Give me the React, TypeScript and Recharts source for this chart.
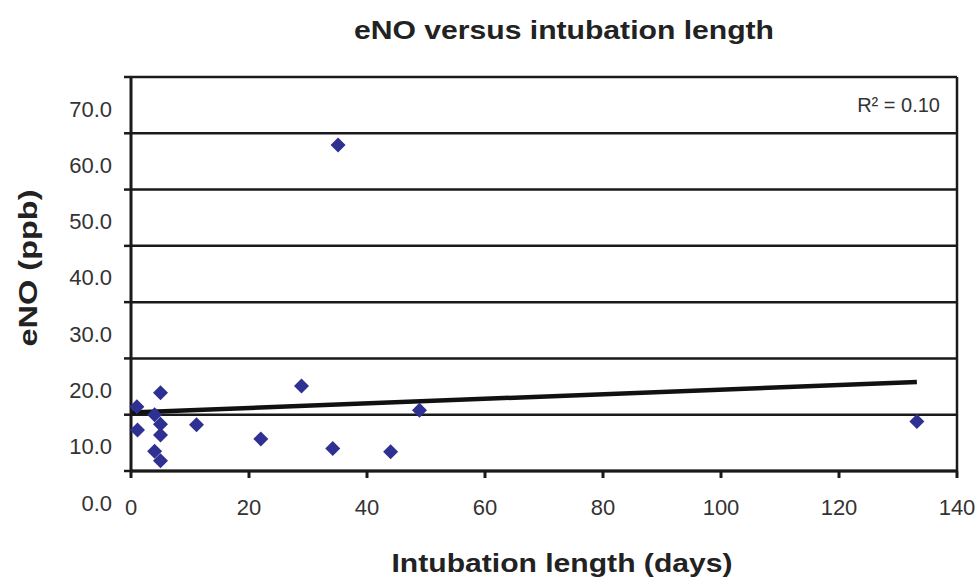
import React from "react";
import { ScatterChart, Scatter, XAxis, YAxis, CartesianGrid, ReferenceLine } from "recharts";

// values
const intubationDays = [1.0, 1.1, 4.0, 4.0, 5.0, 5.0, 5.0, 5.0, 11.1, 22.0, 28.9, 34.2, 35.1, 44.0, 48.9, 133.2];
const enoValues = [11.4, 7.3, 10.0, 3.5, 13.9, 8.3, 6.4, 1.8, 8.2, 5.7, 15.1, 4.0, 57.9, 3.4, 10.8, 8.8];
const trendDays = [0, 133.2];
const trendEno = [10.4, 15.8];
const xTicks = [0, 20, 40, 60, 80, 100, 120, 140];
const yTicks = [0, 10, 20, 30, 40, 50, 60, 70];

const points = intubationDays.map((d, i) => ({ days: d, eno: enoValues[i] }));

const W = 979;
const H = 579;
const INK = "#1a1a1a";
const FONT = "'Liberation Sans', Arial, Helvetica, sans-serif";

const Diamond = (props: any) => {
  const { cx, cy } = props;
  const r = 7.5;
  return (
    <polygon
      points={`${cx},${cy - r} ${cx + r},${cy} ${cx},${cy + r} ${cx - r},${cy}`}
      fill="#2E3192"
    />
  );
};

// the source figure prints its y labels about half a band below their lines
const YTick = (props: any) => {
  const { x, y, payload } = props;
  return (
    <text x={x} y={y + 32} textAnchor="end" dominantBaseline="central" fontSize={22} fill="#333" fontFamily={FONT}>
      {Number(payload.value).toFixed(1)}
    </text>
  );
};

const XTick = (props: any) => {
  const { x, y, payload } = props;
  return (
    <text x={x} y={y} dy="0.71em" textAnchor="middle" fontSize={22} fill="#333" fontFamily={FONT}>
      {payload.value}
    </text>
  );
};

const App = () => {
  return (
    <div style={{ position: "absolute", left: 0, top: 0, width: W, height: H, background: "#fff" }}>
      <ScatterChart width={W} height={H} margin={{ top: 77, right: 22, bottom: 48, left: 0 }}>
        <CartesianGrid vertical={false} stroke={INK} strokeWidth={2.5} />
        <XAxis
          type="number"
          dataKey="days"
          domain={[0, 140]}
          ticks={xTicks}
          height={60}
          tickSize={7}
          tickMargin={21}
          axisLine={{ stroke: INK, strokeWidth: 3 }}
          tickLine={{ stroke: INK, strokeWidth: 3 }}
          tick={<XTick />}
          interval={0}
        />
        <YAxis
          type="number"
          dataKey="eno"
          domain={[0, 70]}
          ticks={yTicks}
          width={131}
          tickSize={7}
          tickMargin={12}
          axisLine={{ stroke: INK, strokeWidth: 3 }}
          tickLine={{ stroke: INK, strokeWidth: 2.5 }}
          tick={<YTick />}
          interval={0}
        />
        <ReferenceLine x={140} stroke={INK} strokeWidth={2.5} />
        <ReferenceLine
          segment={[
            { x: trendDays[0], y: trendEno[0] },
            { x: trendDays[1], y: trendEno[1] },
          ]}
          stroke="#111"
          strokeWidth={4.5}
          ifOverflow="visible"
        />
        <Scatter data={points} shape={<Diamond />} isAnimationActive={false} />
      </ScatterChart>
      <svg width={W} height={H} style={{ position: "absolute", left: 0, top: 0, pointerEvents: "none" }}>
        <text x={564} y={39} textAnchor="middle" fontSize={25} fontWeight="bold" fill="#222" fontFamily={FONT}
          textLength={420} lengthAdjust="spacingAndGlyphs">
          eNO versus intubation length
        </text>
        <text x={562} y={572} textAnchor="middle" fontSize={26} fontWeight="bold" fill="#222" fontFamily={FONT}
          textLength={341} lengthAdjust="spacingAndGlyphs">
          Intubation length (days)
        </text>
        <text x={28} y={268} transform="rotate(-90 28 268)" textAnchor="middle" dominantBaseline="central"
          fontSize={26} fontWeight="bold" fill="#222" fontFamily={FONT} textLength={157} lengthAdjust="spacingAndGlyphs">
          eNO (ppb)
        </text>
        <text x={940} y={112} textAnchor="end" fontSize={20} fill="#333" fontFamily={FONT}>
          R² = 0.10
        </text>
      </svg>
    </div>
  );
};

export default App;
